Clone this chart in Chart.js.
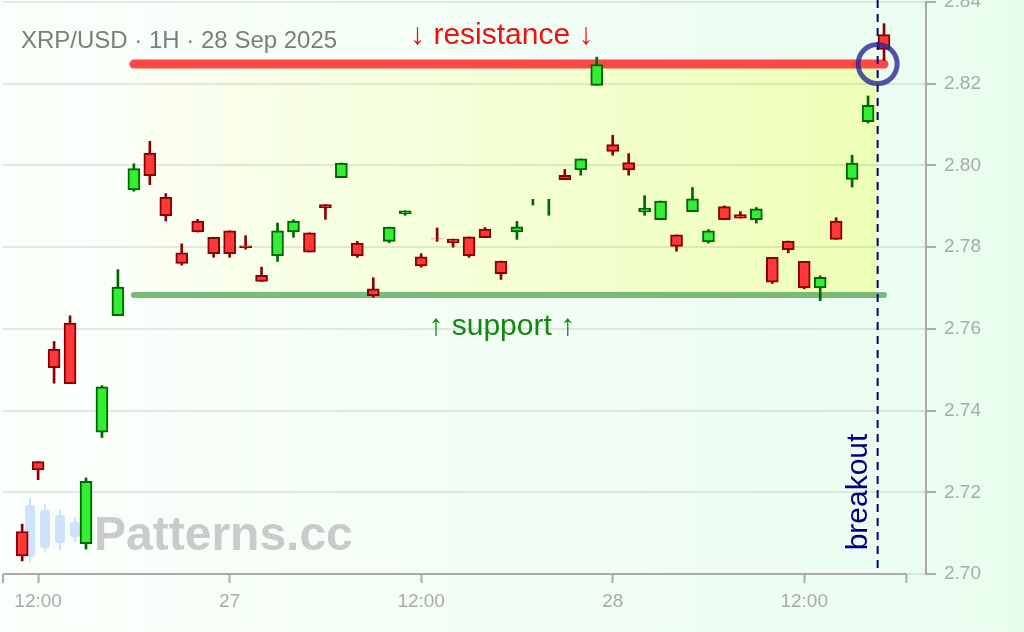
<!DOCTYPE html>
<html>
<head>
<meta charset="utf-8">
<script src="https://cdn.jsdelivr.net/npm/chart.js@4.4.1/dist/chart.umd.min.js"></script>
<style>
  html, body { margin: 0; padding: 0; background: #fff; }
  canvas { display: block; }
</style>
</head>
<body>
<canvas id="chart" width="1024" height="632"></canvas>
<script>
// hours from 12:00 on 26 Sep (candle -1 = 11:00)
const hours = [];
for (let h = -1; h <= 53; h++) hours.push(h);

const openVals = [
  2.7104, 2.7275, 2.7550, 2.7614, 2.7074, 2.7347, 2.7632, 2.7940, 2.8030, 2.7922,
  2.7786, 2.7864, 2.7824, 2.7840, 2.7803, 2.7731, 2.7779, 2.7837, 2.7835, 2.7904,
  2.7970, 2.7810, 2.7698, 2.7814, 2.7882, 2.7776, 2.78202, 2.7820, 2.7825, 2.7844,
  2.7766, 2.7837, 2.7910, 2.7895, 2.7976, 2.7989, 2.8196, 2.8051, 2.8007, 2.7886,
  2.7867, 2.7830, 2.7887, 2.7813, 2.7899, 2.7880, 2.7867, 2.7775, 2.7815, 2.7765,
  2.7700, 2.7864, 2.7966, 2.8107, 2.8320
];
const highVals = [
  2.7122, 2.7275, 2.7569, 2.7632, 2.7235, 2.7461, 2.7745, 2.8004, 2.8059, 2.7931,
  2.7808, 2.7868, 2.7824, 2.7840, 2.7828, 2.7751, 2.7859, 2.7867, 2.7835, 2.7904,
  2.8006, 2.7814, 2.7725, 2.7849, 2.7889, 2.7784, 2.7847, 2.7820, 2.7825, 2.7848,
  2.7766, 2.7863, 2.7917, 2.7917, 2.7990, 2.8016, 2.8265, 2.8074, 2.8029, 2.7926,
  2.7913, 2.7830, 2.7946, 2.7843, 2.7901, 2.7887, 2.7897, 2.7775, 2.7815, 2.7765,
  2.7730, 2.7872, 2.8025, 2.8170, 2.8347
];
const lowVals = [
  2.7032, 2.7231, 2.7467, 2.7466, 2.7061, 2.7334, 2.7632, 2.7937, 2.7953, 2.7864,
  2.7756, 2.7837, 2.7775, 2.7775, 2.7795, 2.7716, 2.7765, 2.7824, 2.7788, 2.7868,
  2.7970, 2.7775, 2.7677, 2.7811, 2.7878, 2.7751, 2.7814, 2.7800, 2.7775, 2.7823,
  2.7721, 2.7819, 2.7903, 2.7878, 2.7965, 2.7976, 2.8196, 2.8025, 2.7976, 2.7878,
  2.7867, 2.7790, 2.7887, 2.7810, 2.7867, 2.7871, 2.7859, 2.7711, 2.7786, 2.7698,
  2.7669, 2.7819, 2.7947, 2.8104, 2.8257
];
const closeVals = [
  2.7044, 2.7255, 2.7505, 2.7466, 2.7227, 2.7458, 2.7702, 2.7992, 2.7975, 2.7877,
  2.7760, 2.7837, 2.7784, 2.7784, 2.7799, 2.7716, 2.7840, 2.7864, 2.7788, 2.7896,
  2.8006, 2.7779, 2.7681, 2.7849, 2.7889, 2.7754, 2.7820, 2.7811, 2.7779, 2.7823,
  2.7735, 2.7850, 2.7910, 2.7895, 2.7965, 2.8016, 2.8247, 2.8034, 2.7989, 2.7895,
  2.7913, 2.7802, 2.7918, 2.7840, 2.7867, 2.7871, 2.7894, 2.7714, 2.7794, 2.7700,
  2.7726, 2.7819, 2.8006, 2.8147, 2.8284
];

const tickHours = [0, 12, 24, 36, 48];
const tickLabels = ['12:00', '27', '12:00', '28', '12:00'];
const yTicks = [2.70, 2.72, 2.74, 2.76, 2.78, 2.80, 2.82, 2.84];

const resistance = 2.8248;
const support = 2.7683;
const lineSpan = [6, 53];       // hours covered by the level lines
const zoneSpan = [5.5, 52.6];   // shaded range, ends at breakout
const breakoutHour = 52.6;

const isUp = openVals.map((o, i) => closeVals[i] >= o);

const bodies = hours.map((h, i) => ({ x: h, y: [openVals[i], closeVals[i]] }));
const wicks = hours.map((h, i) => ({ x: h, y: [lowVals[i], highVals[i]] }));

const decorPlugin = {
    id: 'decor',
    beforeDraw(chart) {
        const { ctx, width, height, scales: { x, y } } = chart;
        ctx.save();
        // page background
        const bg = ctx.createLinearGradient(0, 0, width, 0);
        bg.addColorStop(0, '#fbfffb');
        bg.addColorStop(1, '#e9fdef');
        ctx.fillStyle = bg;
        ctx.fillRect(0, 0, width, height);

        // range zone
        const zx0 = x.getPixelForValue(zoneSpan[0]);
        const zx1 = x.getPixelForValue(zoneSpan[1]);
        const zy0 = y.getPixelForValue(resistance);
        const zy1 = y.getPixelForValue(support);
        const zg = ctx.createLinearGradient(zx0, 0, zx1, 0);
        zg.addColorStop(0, '#fbfff4');
        zg.addColorStop(1, '#eeffb6');
        ctx.fillStyle = zg;
        ctx.fillRect(zx0, zy0, zx1 - zx0, zy1 - zy0);

        // watermark logo
        ctx.fillStyle = '#cfe2f9';
        ctx.strokeStyle = '#cfe2f9';
        ctx.lineWidth = 2;
        const logo = [[30, 498, 562, 505, 557], [45, 504, 552, 510, 548], [60, 510, 550, 515, 543], [75, 517, 542, 522, 537]];
        logo.forEach(c => {
            ctx.beginPath();
            ctx.moveTo(c[0], c[1]);
            ctx.lineTo(c[0], c[2]);
            ctx.stroke();
            ctx.beginPath();
            ctx.roundRect(c[0] - 5, c[3], 10, c[4] - c[3], 3);
            ctx.fill();
        });
        ctx.fillStyle = 'rgba(190,190,190,0.8)';
        ctx.font = 'bold 48px "Liberation Sans", Arial, sans-serif';
        ctx.textBaseline = 'alphabetic';
        ctx.fillText('Patterns.cc', 94, 550);
        ctx.restore();
    },
    afterDatasetsDraw(chart) {
        const { ctx, chartArea, scales: { x, y } } = chart;
        ctx.save();
        // x axis line stops short of the y axis
        const ax0 = chartArea.left;
        const ax1 = x.getPixelForValue(54.4);
        const ay = chartArea.bottom;
        ctx.strokeStyle = '#aaaaaa';
        ctx.lineWidth = 2;
        ctx.beginPath();
        ctx.moveTo(ax0, ay);
        ctx.lineTo(ax1, ay);
        ctx.moveTo(ax0, ay);
        ctx.lineTo(ax0, ay + 9);
        ctx.moveTo(ax1, ay);
        ctx.lineTo(ax1, ay + 9);
        ctx.stroke();

        // breakout line
        const bx = x.getPixelForValue(breakoutHour);
        ctx.strokeStyle = '#000080';
        ctx.lineWidth = 2;
        ctx.setLineDash([8, 6]);
        ctx.beginPath();
        ctx.moveTo(bx, 0);
        ctx.lineTo(bx, chartArea.bottom);
        ctx.stroke();
        ctx.setLineDash([]);

        // circle at the breakout point
        ctx.strokeStyle = 'rgba(40,40,150,0.8)';
        ctx.lineWidth = 5;
        ctx.beginPath();
        ctx.arc(bx, y.getPixelForValue(resistance), 19.5, 0, Math.PI * 2);
        ctx.stroke();

        // labels
        const mid = x.getPixelForValue((zoneSpan[0] + zoneSpan[1]) / 2);
        ctx.font = '30px "Liberation Sans", Arial, sans-serif';
        ctx.textAlign = 'center';
        ctx.textBaseline = 'alphabetic';
        ctx.fillStyle = '#ee1111';
        ctx.fillText('↓ resistance ↓', mid, y.getPixelForValue(resistance) - 20);
        ctx.fillStyle = '#118811';
        ctx.fillText('↑ support ↑', mid, y.getPixelForValue(support) + 40);

        ctx.save();
        ctx.translate(bx - 11, chartArea.bottom - 82);
        ctx.rotate(-Math.PI / 2);
        ctx.fillStyle = '#000080';
        ctx.textBaseline = 'alphabetic';
        ctx.fillText('breakout', 0, 0);
        ctx.restore();

        // title
        ctx.textAlign = 'left';
        ctx.fillStyle = '#7a7f7a';
        ctx.font = '24px "Liberation Sans", Arial, sans-serif';
        ctx.fillText('XRP/USD · 1H · 28 Sep 2025', 21, 48);
        ctx.restore();
    }
};

Chart.defaults.font.family = '"Liberation Sans", Arial, sans-serif';

new Chart(document.getElementById('chart'), {
    type: 'bar',
    data: {
        datasets: [
            {
                label: 'body',
                data: bodies,
                order: 0,
                grouped: false,
                barThickness: 12,
                borderWidth: 2,
                borderSkipped: false,
                backgroundColor: isUp.map(u => u ? '#33ee33' : '#ff3838'),
                borderColor: isUp.map(u => u ? '#006600' : '#8b0000'),
            },
            {
                label: 'wick',
                data: wicks,
                order: 1,
                grouped: false,
                barThickness: 2,
                borderWidth: 0,
                backgroundColor: isUp.map(u => u ? '#006600' : '#8b0000'),
            },
            {
                type: 'line',
                label: 'resistance',
                data: lineSpan.map(h => ({ x: h, y: resistance })),
                order: 2,
                borderColor: 'rgba(255,55,55,0.92)',
                borderWidth: 9,
                borderCapStyle: 'round',
                pointRadius: 0,
            },
            {
                type: 'line',
                label: 'support',
                data: lineSpan.map(h => ({ x: h, y: support })),
                order: 2,
                borderColor: 'rgba(100,175,100,0.85)',
                borderWidth: 6,
                borderCapStyle: 'round',
                pointRadius: 0,
            },
        ]
    },
    options: {
        responsive: false,
        animation: false,
        devicePixelRatio: 1,
        layout: { padding: { left: 3, top: 2, right: 0, bottom: 0 } },
        plugins: {
            legend: { display: false },
            tooltip: { enabled: false },
        },
        scales: {
            x: {
                type: 'linear',
                min: -2.2,
                max: 55.63,
                offset: false,
                afterBuildTicks: (scale) => { scale.ticks = tickHours.map(v => ({ value: v })); },
                afterFit: (scale) => { scale.height = 58; scale.paddingLeft = 0; scale.paddingRight = 0; },
                ticks: {
                    autoSkip: false,
                    maxRotation: 0,
                    padding: 7,
                    color: '#aaaaaa',
                    font: { size: 19 },
                    callback: (value, index) => tickLabels[index],
                },
                grid: {
                    offset: false,
                    drawOnChartArea: false,
                    drawTicks: true,
                    tickLength: 9,
                    tickColor: '#aaaaaa',
                    tickWidth: 2,
                },
                border: { display: false },
            },
            y: {
                position: 'right',
                min: 2.70,
                max: 2.84,
                afterBuildTicks: (scale) => { scale.ticks = yTicks.map(v => ({ value: v })); },
                afterFit: (scale) => { scale.width = 98; scale.paddingTop = 0; scale.paddingBottom = 0; },
                ticks: {
                    padding: 8,
                    color: '#aaaaaa',
                    font: { size: 19 },
                    callback: (value) => value.toFixed(2),
                },
                grid: {
                    color: 'rgba(0,0,0,0.09)',
                    lineWidth: 2,
                    tickLength: 10,
                    tickColor: '#aaaaaa',
                    tickWidth: 2,
                },
                border: { color: '#aaaaaa', width: 2 },
            },
        },
    },
    plugins: [decorPlugin],
});
</script>
</body>
</html>
